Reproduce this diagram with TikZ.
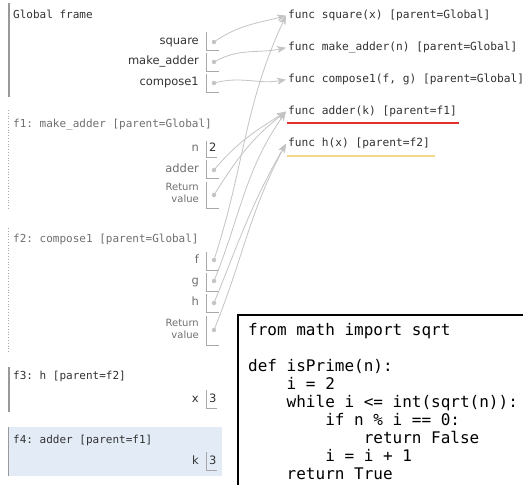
\documentclass[tikz,border=0pt]{standalone}
\usepackage{fontspec}
\setmainfont{DejaVu Sans}
\setmonofont{DejaVu Sans Mono}
\usetikzlibrary{arrows.meta}
\definecolor{ptrgray}{HTML}{C4C4C4}
\definecolor{cellgray}{HTML}{A8A8A8}
\definecolor{bargray}{HTML}{999999}
\definecolor{darktext}{HTML}{333333}
\definecolor{lighttext}{HTML}{707070}
\definecolor{hlblue}{HTML}{E2EBF6}
\definecolor{redline}{HTML}{E0302A}
\definecolor{yellowline}{HTML}{F6D98A}
\newcommand\codeind{\hspace*{2.408em}}
\begin{document}
\begin{tikzpicture}[x=1pt,y=-1pt,
  frametitle/.style={anchor=mid west, inner sep=0pt, font=\fontsize{11}{13}\selectfont\ttfamily, text=#1},
  varlabel/.style={anchor=mid east, inner sep=0pt, font=\fontsize{11.5}{13}\selectfont, text=#1},
  retlabel/.style={anchor=east, inner sep=0pt, align=right, font=\fontsize{10}{11.5}\selectfont, text=#1},
  numval/.style={anchor=mid west, inner sep=0pt, font=\fontsize{11.5}{13}\selectfont, text=darktext},
  funcobj/.style={anchor=mid west, inner xsep=2pt, inner ysep=0pt, font=\fontsize{11.2}{13}\selectfont\ttfamily, text=darktext},
  cell/.style={draw=cellgray, line width=0.8pt},
  ptrdot/.style={circle, fill=ptrgray, inner sep=0pt, minimum size=4.5pt},
  ptr/.style={draw=ptrgray, line width=0.8pt, -{Stealth[length=9pt, width=7pt, inset=2.5pt]}},
  solidbar/.style={draw=bargray, line width=1.4pt},
  dotbar/.style={draw=cellgray, line width=0.8pt, dotted}
]
\useasboundingbox (0,0) rectangle (523,485);
\fill[white] (0,0) rectangle (523,485);

% ---------- Global frame ----------
\draw[solidbar] (9,3) -- (9,97);
\node[frametitle=darktext] (gtitle) at (13,16) {Global frame};
\node[varlabel=darktext] (lsq) at (199,42) {square};
\node[varlabel=darktext] (lma) at (199,62) {make\_adder};
\node[varlabel=darktext] (lco) at (199,83) {compose1};
\draw[cell] (206,32) -- (206,50) -- (219,50);
\draw[cell] (206,53) -- (206,71) -- (219,71);
\draw[cell] (206,74) -- (206,92) -- (219,92);
\node[ptrdot] (dsq) at (214,42) {};
\node[ptrdot] (dma) at (214,62) {};
\node[ptrdot] (dco) at (214,83) {};

% ---------- f1 ----------
\draw[dotbar] (8,110) -- (8,210);
\node[frametitle=lighttext] (f1title) at (13,125) {f1: make\_adder [parent=Global]};
\node[varlabel=lighttext] (f1n) at (199,149) {n};
\draw[cell] (206,141) -- (206,157) -- (217,157);
\node[numval] (f1nv) at (209,149) {2};
\node[varlabel=lighttext] (f1a) at (199,170) {adder};
\draw[cell] (206,160) -- (206,178) -- (219,178);
\node[ptrdot] (d1a) at (214,170) {};
\node[retlabel=lighttext] (f1r) at (199,193) {Return\\value};
\draw[cell] (206,182) -- (206,208) -- (219,208);
\node[ptrdot] (d1r) at (214,195) {};

% ---------- f2 ----------
\draw[dotbar] (8,228) -- (8,352);
\node[frametitle=lighttext] (f2title) at (13,240) {f2: compose1 [parent=Global]};
\node[varlabel=lighttext] (f2f) at (199,261) {f};
\draw[cell] (206,252) -- (206,270) -- (219,270);
\node[ptrdot] (d2f) at (214,260) {};
\node[varlabel=lighttext] (f2g) at (199,282) {g};
\draw[cell] (206,273) -- (206,291) -- (219,291);
\node[ptrdot] (d2g) at (214,281) {};
\node[varlabel=lighttext] (f2h) at (199,303) {h};
\draw[cell] (206,294) -- (206,312) -- (219,312);
\node[ptrdot] (d2h) at (214,303) {};
\node[retlabel=lighttext] (f2r) at (199,329) {Return\\value};
\draw[cell] (206,316) -- (206,345) -- (219,345);
\node[ptrdot] (d2r) at (214,330) {};

% ---------- f3 ----------
\draw[solidbar] (9,367) -- (9,412);
\node[frametitle=darktext] (f3title) at (13,377) {f3: h [parent=f2]};
\node[varlabel=darktext] (f3x) at (199,400) {x};
\draw[cell] (206,390) -- (206,408) -- (217,408);
\node[numval] (f3xv) at (209,400) {3};

% ---------- f4 ----------
\fill[hlblue] (8,427) rectangle (222,476);
\draw[solidbar] (8.7,427) -- (8.7,476);
\node[frametitle=darktext] (f4title) at (13,441) {f4: adder [parent=f1]};
\node[varlabel=darktext] (f4k) at (199,462) {k};
\draw[cell] (206,452) -- (206,470) -- (217,470);
\node[numval] (f4kv) at (209,462) {3};

% ---------- function objects ----------
\node[funcobj] (fsq) at (286,16) {func square(x) [parent=Global]};
\node[funcobj] (fma) at (286,48) {func make\_adder(n) [parent=Global]};
\node[funcobj] (fco) at (286,80) {func compose1(f, g) [parent=Global]};
\node[funcobj] (fad) at (286,112) {func adder(k) [parent=f1]};
\node[funcobj] (fh) at (286,144) {func h(x) [parent=f2]};
\draw[redline, line width=1.6pt] (287,123) -- (459,123);
\draw[yellowline, line width=1.6pt] (287,156) -- (435,156);

% ---------- pointers ----------
\draw[ptr] (dsq.center) to[out=35, in=195] (fsq.west);
\draw[ptr] (dma.center) to[out=30, in=192] (fma.west);
\draw[ptr] (dco.center) to[out=15, in=190] (fco.west);
\draw[ptr] (d1a.center) to[out=50, in=212] (fad.west);
\draw[ptr] (d1r.center) to[out=58, in=218] (fad.west);
\draw[ptr] (d2f.center) to[out=72, in=245] (fsq.west);
\draw[ptr] (d2g.center) to[out=68, in=235] (fad.west);
\draw[ptr] (d2h.center) to[out=68, in=240] (fh.west);
\draw[ptr] (d2r.center) to[out=68, in=242] (fh.west);

% ---------- code box ----------
\fill[white] (238,315) rectangle (523,485);
\draw[line width=1.3pt, line cap=rect] (523,315) -- (238,315) -- (238,485);
\node[anchor=north west, inner sep=0pt, align=left,
      font=\fontsize{16}{18}\selectfont\ttfamily] (code) at (248,323)
{from math import sqrt\\
\mbox{}\\
def isPrime(n):\\
\codeind i = 2\\
\codeind while i <= int(sqrt(n)):\\
\codeind\codeind if n \% i == 0:\\
\codeind\codeind\codeind return False\\
\codeind\codeind i = i + 1\\
\codeind return True};
\end{tikzpicture}
\end{document}
